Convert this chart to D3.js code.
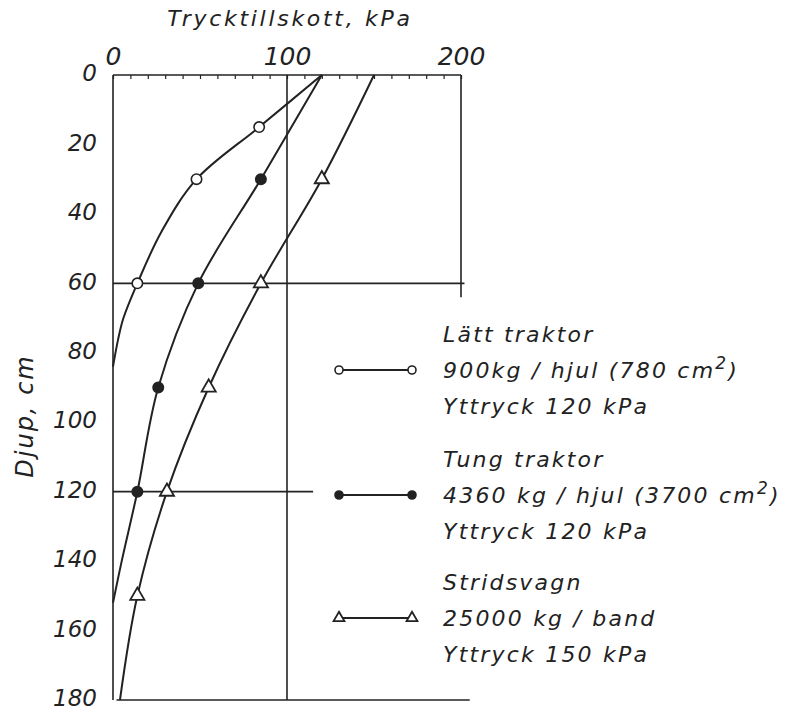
<!DOCTYPE html>
<html>
<head>
<meta charset="utf-8">
<script src="https://cdn.jsdelivr.net/npm/d3@7"></script>
<style>
  body { margin: 0; background: #fff; }
  text { font-family: "DejaVu Sans", sans-serif; font-style: italic; fill: #222; }
</style>
</head>
<body>
<svg id="chart" width="803" height="712"></svg>
<script>
// depth (cm) and pressure increase (kPa)
const lattDepth   = [0, 15, 30, 45, 60, 70, 76, 84];
const lattValue   = [120, 84, 48, 28, 14, 6, 3, 0];
const lattMarks   = [15, 30, 60];

const tungDepth   = [0, 30, 60, 90, 120, 140, 152];
const tungValue   = [120, 85, 49, 26, 14, 5, 0];
const tungMarks   = [30, 60, 90, 120];

const stridDepth  = [0, 30, 60, 90, 120, 150, 180];
const stridValue  = [150, 120, 85, 55, 31, 14, 4];
const stridMarks  = [30, 60, 90, 120, 150];

const xTickLabels = [0, 100, 200];
const yTickLabels = [0, 20, 40, 60, 80, 100, 120, 140, 160, 180];
const xMinorTicks = [0, 10, 20, 30, 40, 50, 60, 70, 80, 90, 100, 110, 120, 130, 140, 150, 160, 170, 180, 190, 200];

const legendLines = [
  ["Lätt traktor", "900kg / hjul (780 cm|2|)", "Yttryck 120 kPa"],
  ["Tung traktor", "4360 kg / hjul (3700 cm|2|)", "Yttryck 120 kPa"],
  ["Stridsvagn", "25000 kg / band", "Yttryck 150 kPa"]
];

const svg = d3.select("#chart");
const ink = "#222";

const x = d3.scaleLinear().domain([0, 200]).range([113, 461]);
const y = d3.scaleLinear().domain([0, 180]).range([75, 700]);

// frame and reference lines (in data units)
const frame = [
  { x1: 0, y1: 0, x2: 200, y2: 0 },
  { x1: 0, y1: 0, x2: 0, y2: 180 },
  { x1: 200, y1: 0, x2: 200, y2: 64 },
  { x1: 100, y1: 0, x2: 100, y2: 180 },
  { x1: 0, y1: 60, x2: 202, y2: 60 },
  { x1: 0, y1: 120, x2: 115, y2: 120 },
  { x1: 2, y1: 180, x2: 205, y2: 180 }
];
svg.append("g").selectAll("line").data(frame).join("line")
  .attr("x1", d => x(d.x1)).attr("y1", d => y(d.y1))
  .attr("x2", d => x(d.x2)).attr("y2", d => y(d.y2))
  .attr("stroke", ink).attr("stroke-width", 1.6);

// minor ticks along top
svg.append("g")
  .attr("transform", `translate(0,${y(0)})`)
  .call(d3.axisTop(x).tickValues(xMinorTicks).tickSize(-4).tickFormat(""))
  .call(g => g.select(".domain").remove())
  .call(g => g.selectAll("line").attr("stroke", ink).attr("stroke-width", 1.2));

// top labels
svg.append("g")
  .attr("transform", `translate(0,${y(0)})`)
  .call(d3.axisTop(x).tickValues(xTickLabels).tickSize(0).tickPadding(10))
  .call(g => g.select(".domain").remove())
  .call(g => g.selectAll("text").attr("font-size", 25).attr("font-family", null));

// left labels
svg.append("g")
  .attr("transform", `translate(${x(0)},0)`)
  .call(d3.axisLeft(y).tickValues(yTickLabels).tickSize(0).tickPadding(16))
  .call(g => g.select(".domain").remove())
  .call(g => g.selectAll("text").attr("font-size", 23).attr("dy", "0.25em").attr("font-family", null));

svg.append("text")
  .attr("x", 290).attr("y", 26)
  .attr("text-anchor", "middle").attr("font-size", 22)
  .attr("letter-spacing", 2.7)
  .text("Trycktillskott, kPa");

svg.append("text")
  .attr("transform", "translate(33,416) rotate(-90)")
  .attr("text-anchor", "middle").attr("font-size", 24)
  .attr("letter-spacing", 2)
  .text("Djup, cm");

// curves
const series = [
  { depth: lattDepth, value: lattValue, marks: lattMarks, type: "open" },
  { depth: tungDepth, value: tungValue, marks: tungMarks, type: "filled" },
  { depth: stridDepth, value: stridValue, marks: stridMarks, type: "triangle" }
];

const line = d3.line()
  .x(d => x(d.v)).y(d => y(d.d))
  .curve(d3.curveCatmullRom.alpha(0.5));

function drawMarker(g, type, r) {
  if (type === "triangle") {
    g.append("path")
      .attr("d", d3.symbol(d3.symbolTriangle, r * r * 3.2)())
      .attr("fill", "#fff").attr("stroke", ink).attr("stroke-width", 1.8);
  } else {
    g.append("circle").attr("r", r)
      .attr("fill", type === "filled" ? ink : "#fff")
      .attr("stroke", ink).attr("stroke-width", 1.6);
  }
}

series.forEach(s => {
  const pts = s.depth.map((d, i) => ({ d, v: s.value[i] }));
  svg.append("path").datum(pts)
    .attr("d", line)
    .attr("fill", "none").attr("stroke", ink).attr("stroke-width", 2);
  pts.filter(p => s.marks.includes(p.d)).forEach(p => {
    const g = svg.append("g").attr("transform", `translate(${x(p.v)},${y(p.d)})`);
    drawMarker(g, s.type, 5.2);
  });
});

// legend
const legendTop = [342, 467, 590];
legendLines.forEach((lines, i) => {
  const t0 = legendTop[i];
  const my = t0 + 28;
  svg.append("line")
    .attr("x1", 339).attr("x2", 412).attr("y1", my).attr("y2", my)
    .attr("stroke", ink).attr("stroke-width", 2);
  [339, 412].forEach(mx => {
    const g = svg.append("g").attr("transform", `translate(${mx},${my})`);
    drawMarker(g, series[i].type, 4);
  });
  lines.forEach((str, j) => {
    const t = svg.append("text")
      .attr("x", 443).attr("y", t0 + j * 36)
      .attr("font-size", 22).attr("letter-spacing", 2.2);
    str.split("|").forEach((part, k) => {
      const sp = t.append("tspan").text(part);
      if (k === 1) sp.attr("dy", -9).attr("font-size", 17);
      if (k === 2) sp.attr("dy", 9);
    });
  });
});
</script>
</body>
</html>
